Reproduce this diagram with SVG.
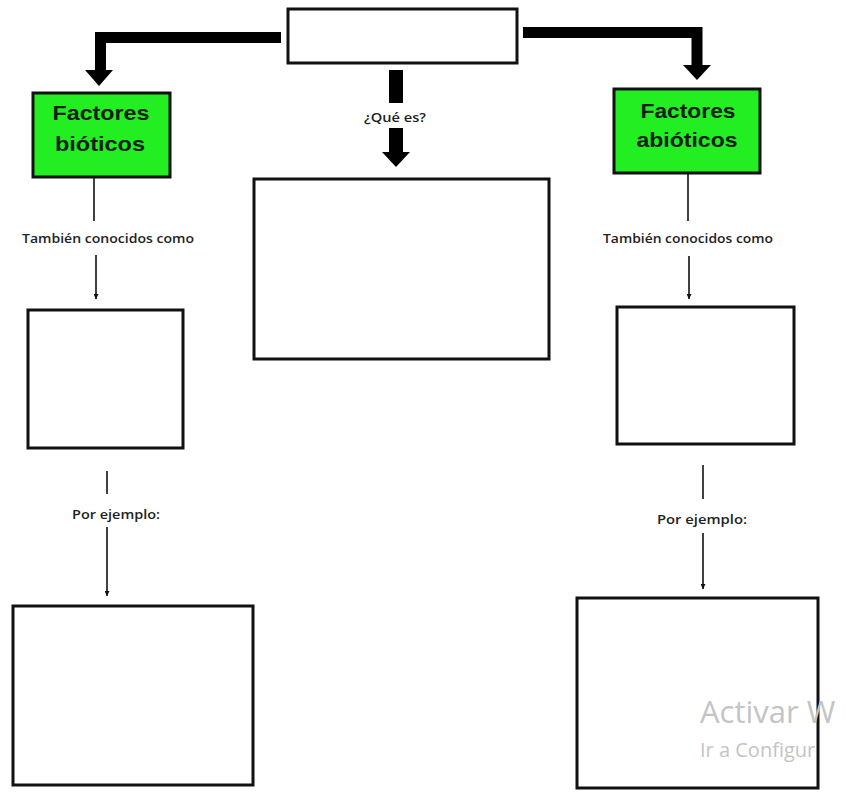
<svg xmlns="http://www.w3.org/2000/svg" width="845" height="792" viewBox="0 0 845 792">
<style>
.box{fill:#fff;stroke:#111;stroke-width:3}
.green{fill:#22ee22;stroke:#111;stroke-width:3}
.thick{fill:none;stroke:#000;stroke-width:11;stroke-linejoin:miter}
.thin{stroke:#111;stroke-width:1.6;fill:none}
.title{font-family:"Liberation Sans",Arial,sans-serif;font-weight:bold;font-size:21px;fill:#102010;text-anchor:middle}
.lbl{font-family:"Open Sans","Liberation Sans",sans-serif;font-weight:600;font-size:12px;fill:#222;text-anchor:middle}
.wm{font-family:"Open Sans","Noto Sans",sans-serif;fill:#c4c4c4}
</style>
<defs>
<marker id="ah" viewBox="0 0 10 10" refX="10" refY="5" markerWidth="5" markerHeight="5" orient="auto" markerUnits="userSpaceOnUse"><path d="M0,0 L10,5 L0,10 z" fill="#111"/></marker>
</defs>
<rect width="845" height="792" fill="#fff"/>
<g id="connectors">
<path class="thick" d="M281,37.5 H100.5 V72"/>
<polygon points="85,70 113,70 99,86" fill="#000"/>
<path class="thick" d="M523,32.5 H697 V67"/>
<polygon points="683,65 711,65 697,80" fill="#000"/>
<rect x="389" y="70" width="14" height="33" fill="#000"/>
<rect x="389" y="128" width="14" height="27" fill="#000"/>
<polygon points="382,152 410,152 396,167" fill="#000"/>
<text class="lbl" x="395" y="122" font-size="11.5" textLength="62" lengthAdjust="spacingAndGlyphs">¿Qué es?</text>
<line class="thin" x1="94" y1="178" x2="94" y2="221"/>
<line class="thin" x1="96" y1="255" x2="96" y2="299" marker-end="url(#ah)"/>
<text class="lbl" x="108" y="243" textLength="172" lengthAdjust="spacingAndGlyphs">También conocidos como</text>
<line class="thin" x1="107" y1="471" x2="107" y2="494"/>
<line class="thin" x1="107" y1="527" x2="107" y2="596" marker-end="url(#ah)"/>
<text class="lbl" x="116" y="519" textLength="88" lengthAdjust="spacingAndGlyphs">Por ejemplo:</text>
<line class="thin" x1="688" y1="174" x2="688" y2="221"/>
<line class="thin" x1="689" y1="256" x2="689" y2="299" marker-end="url(#ah)"/>
<text class="lbl" x="688" y="243" textLength="170" lengthAdjust="spacingAndGlyphs">También conocidos como</text>
<line class="thin" x1="703" y1="465" x2="703" y2="499"/>
<line class="thin" x1="703" y1="533" x2="703" y2="589" marker-end="url(#ah)"/>
<text class="lbl" x="702" y="524" textLength="90" lengthAdjust="spacingAndGlyphs">Por ejemplo:</text>
</g>
<g id="top"><rect class="box" x="288" y="9" width="229" height="54"/></g>
<g id="bioticos"><rect class="green" x="33" y="93" width="137" height="84"/>
<text class="title" x="101" y="120" textLength="97" lengthAdjust="spacingAndGlyphs">Factores</text><text class="title" x="100" y="151" textLength="90" lengthAdjust="spacingAndGlyphs">bióticos</text></g>
<g id="abioticos"><rect class="green" x="614" y="89" width="146" height="84"/>
<text class="title" x="688" y="118" textLength="95" lengthAdjust="spacingAndGlyphs">Factores</text><text class="title" x="687" y="147" textLength="101" lengthAdjust="spacingAndGlyphs">abióticos</text></g>
<g id="quees"><rect class="box" x="254" y="179" width="295" height="180"/></g>
<g id="b2"><rect class="box" x="28" y="310" width="155" height="138"/></g>
<g id="b3"><rect class="box" x="13" y="606" width="240" height="179"/></g>
<g id="a2"><rect class="box" x="617" y="307" width="177" height="137"/></g>
<g id="a3"><rect class="box" x="577" y="598" width="241" height="190"/></g>
<g id="watermark">
<text class="wm" x="700" y="723" font-size="31">Activar W</text>
<text class="wm" x="700" y="757" font-size="20">Ir a Configur</text>
</g>
</svg>
